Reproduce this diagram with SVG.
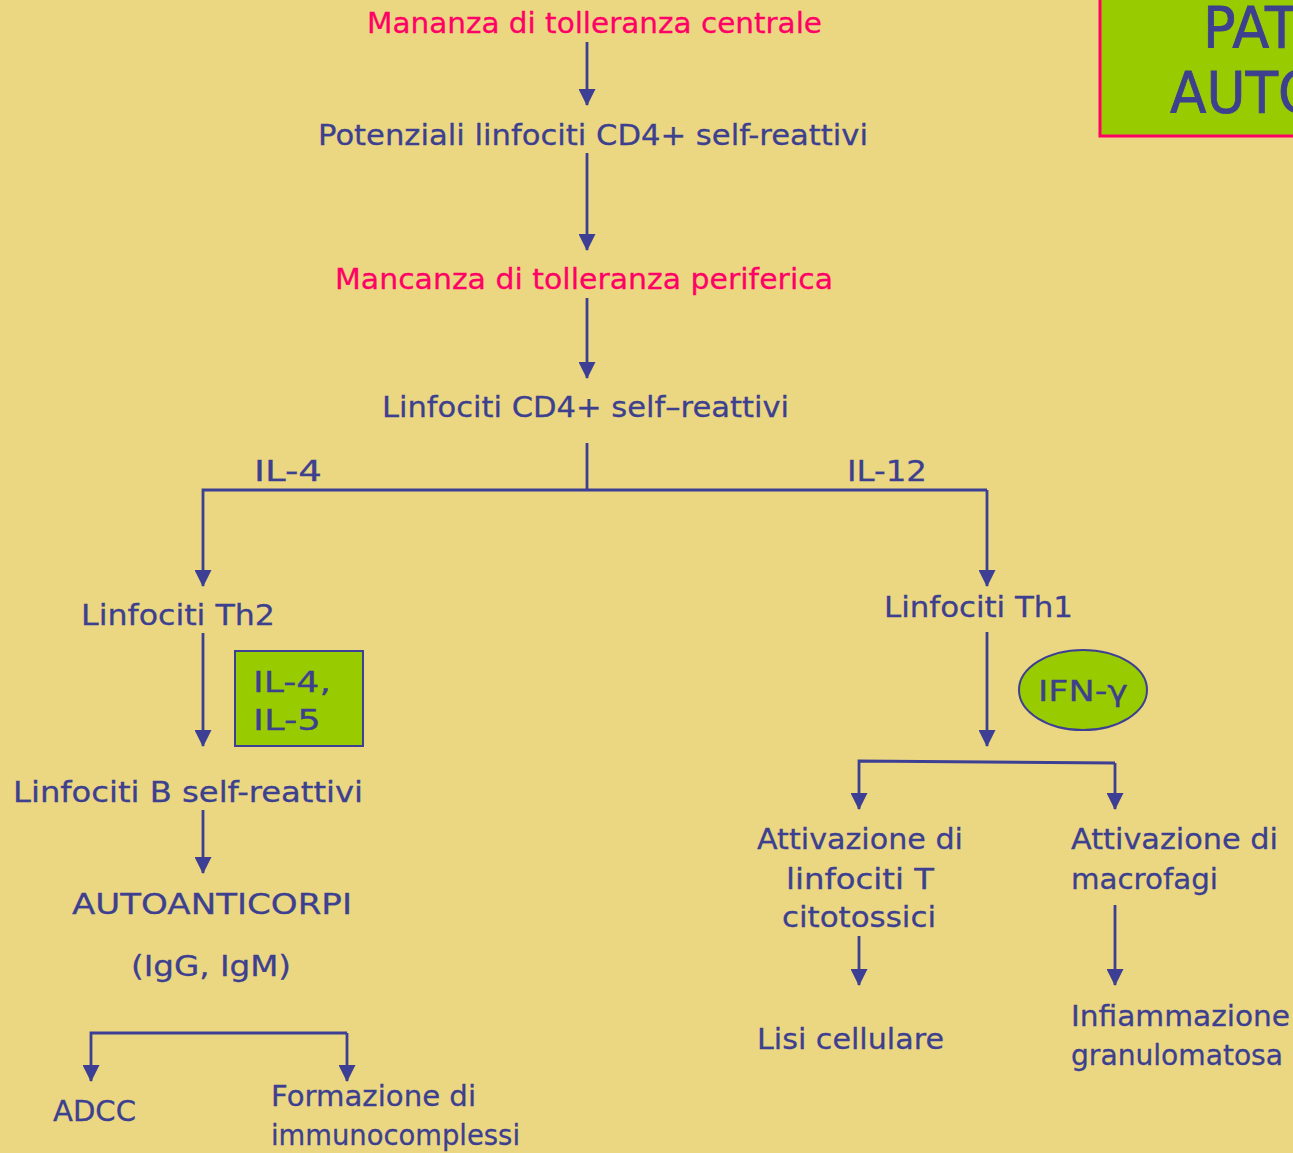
<svg xmlns="http://www.w3.org/2000/svg" width="1293" height="1153" viewBox="0 0 1293 1153">
<defs>
<style>
.t{font-family:"DejaVu Sans","Liberation Sans",sans-serif;font-size:29px;fill:#3d3f8f;stroke:#3d3f8f;stroke-width:0.3}
.r{fill:#ff0066;stroke:#ff0066}
.c{stroke:#3d3f94;stroke-width:2.8;fill:none}
.h{font-family:"DejaVu Sans","Liberation Sans",sans-serif;font-size:57px;fill:#3d3f8f;stroke:#3d3f8f;stroke-width:0.8}
</style>
<marker id="a" markerWidth="17" markerHeight="17" viewBox="0 0 16 16" refX="15" refY="8" orient="auto" markerUnits="userSpaceOnUse">
<path d="M0,0 L16,8 L0,16 Z" fill="#3d3f94"/>
</marker>
</defs>
<rect width="1293" height="1153" fill="#ebd782"/>

<g id="title">
<rect x="1100" y="-4" width="200" height="140" fill="#99cc00" stroke="#ff0066" stroke-width="3"/>
<text class="h" x="1203" y="48" textLength="95" lengthAdjust="spacingAndGlyphs">PAT</text>
<text class="h" x="1170" y="113" textLength="150" lengthAdjust="spacingAndGlyphs">AUTO</text>
</g>

<g id="connectors">
<path class="c" d="M587,42 V105" marker-end="url(#a)"/>
<path class="c" d="M587,153 V250" marker-end="url(#a)"/>
<path class="c" d="M587,298 V378" marker-end="url(#a)"/>
<path class="c" d="M587,443 V490"/>
<path class="c" d="M987,490 H203 V586" marker-end="url(#a)"/>
<path class="c" d="M987,490 V586" marker-end="url(#a)"/>
<path class="c" d="M203,633 V746" marker-end="url(#a)"/>
<path class="c" d="M987,632 V746" marker-end="url(#a)"/>
<path class="c" d="M203,810 V873" marker-end="url(#a)"/>
<path class="c" d="M347,1033 H91 V1081" marker-end="url(#a)"/>
<path class="c" d="M347,1033 V1081" marker-end="url(#a)"/>
<path class="c" d="M1115,763 L859,761 V809" marker-end="url(#a)"/>
<path class="c" d="M1115,763 V809" marker-end="url(#a)"/>
<path class="c" d="M859,936 V985" marker-end="url(#a)"/>
<path class="c" d="M1115,905 V985" marker-end="url(#a)"/>
</g>

<g id="n1"><text class="t r" x="367" y="33" textLength="455" lengthAdjust="spacingAndGlyphs">Mananza di tolleranza centrale</text></g>
<g id="n2"><text class="t" x="318" y="145" textLength="550" lengthAdjust="spacingAndGlyphs">Potenziali linfociti CD4+ self-reattivi</text></g>
<g id="n3"><text class="t r" x="335" y="289" textLength="498" lengthAdjust="spacingAndGlyphs">Mancanza di tolleranza periferica</text></g>
<g id="n4"><text class="t" x="382" y="417" textLength="407" lengthAdjust="spacingAndGlyphs">Linfociti CD4+ self–reattivi</text></g>
<g id="l1"><text class="t" x="254" y="481" textLength="68" lengthAdjust="spacingAndGlyphs">IL-4</text></g>
<g id="l2"><text class="t" x="847" y="481" textLength="80" lengthAdjust="spacingAndGlyphs">IL-12</text></g>
<g id="n5"><text class="t" x="81" y="625" textLength="194" lengthAdjust="spacingAndGlyphs">Linfociti Th2</text></g>
<g id="n6"><text class="t" x="884" y="617" textLength="189" lengthAdjust="spacingAndGlyphs">Linfociti Th1</text></g>
<g id="b1">
<rect x="235" y="651" width="128" height="95" fill="#99cc00" stroke="#3d3f94" stroke-width="2"/>
<text class="t" x="253" y="692" textLength="78" lengthAdjust="spacingAndGlyphs">IL-4,</text>
<text class="t" x="253" y="730" textLength="68" lengthAdjust="spacingAndGlyphs">IL-5</text>
</g>
<g id="b2">
<ellipse cx="1083" cy="690" rx="64" ry="40" fill="#99cc00" stroke="#3d3f94" stroke-width="2"/>
<text class="t" x="1038" y="701" textLength="90" lengthAdjust="spacingAndGlyphs">IFN-γ</text>
</g>
<g id="n7"><text class="t" x="13" y="802" textLength="350" lengthAdjust="spacingAndGlyphs">Linfociti B self-reattivi</text></g>
<g id="n8">
<text class="t" x="72" y="914" textLength="280" lengthAdjust="spacingAndGlyphs">AUTOANTICORPI</text>
<text class="t" x="131" y="976" textLength="160" lengthAdjust="spacingAndGlyphs">(IgG, IgM)</text>
</g>
<g id="n9"><text class="t" x="53" y="1121" textLength="83" lengthAdjust="spacingAndGlyphs">ADCC</text></g>
<g id="n10">
<text class="t" x="271" y="1106" textLength="205" lengthAdjust="spacingAndGlyphs">Formazione di</text>
<text class="t" x="271" y="1145" textLength="249" lengthAdjust="spacingAndGlyphs">immunocomplessi</text>
</g>
<g id="n11">
<text class="t" x="757" y="849" textLength="206" lengthAdjust="spacingAndGlyphs">Attivazione di</text>
<text class="t" x="786" y="889" textLength="148" lengthAdjust="spacingAndGlyphs">linfociti T</text>
<text class="t" x="782" y="927" textLength="154" lengthAdjust="spacingAndGlyphs">citotossici</text>
</g>
<g id="n12"><text class="t" x="757" y="1049" textLength="187" lengthAdjust="spacingAndGlyphs">Lisi cellulare</text></g>
<g id="n13">
<text class="t" x="1071" y="849" textLength="207" lengthAdjust="spacingAndGlyphs">Attivazione di</text>
<text class="t" x="1071" y="889" textLength="147" lengthAdjust="spacingAndGlyphs">macrofagi</text>
</g>
<g id="n14">
<text class="t" x="1071" y="1026" textLength="219" lengthAdjust="spacingAndGlyphs">Infiammazione</text>
<text class="t" x="1071" y="1065" textLength="212" lengthAdjust="spacingAndGlyphs">granulomatosa</text>
</g>
</svg>
